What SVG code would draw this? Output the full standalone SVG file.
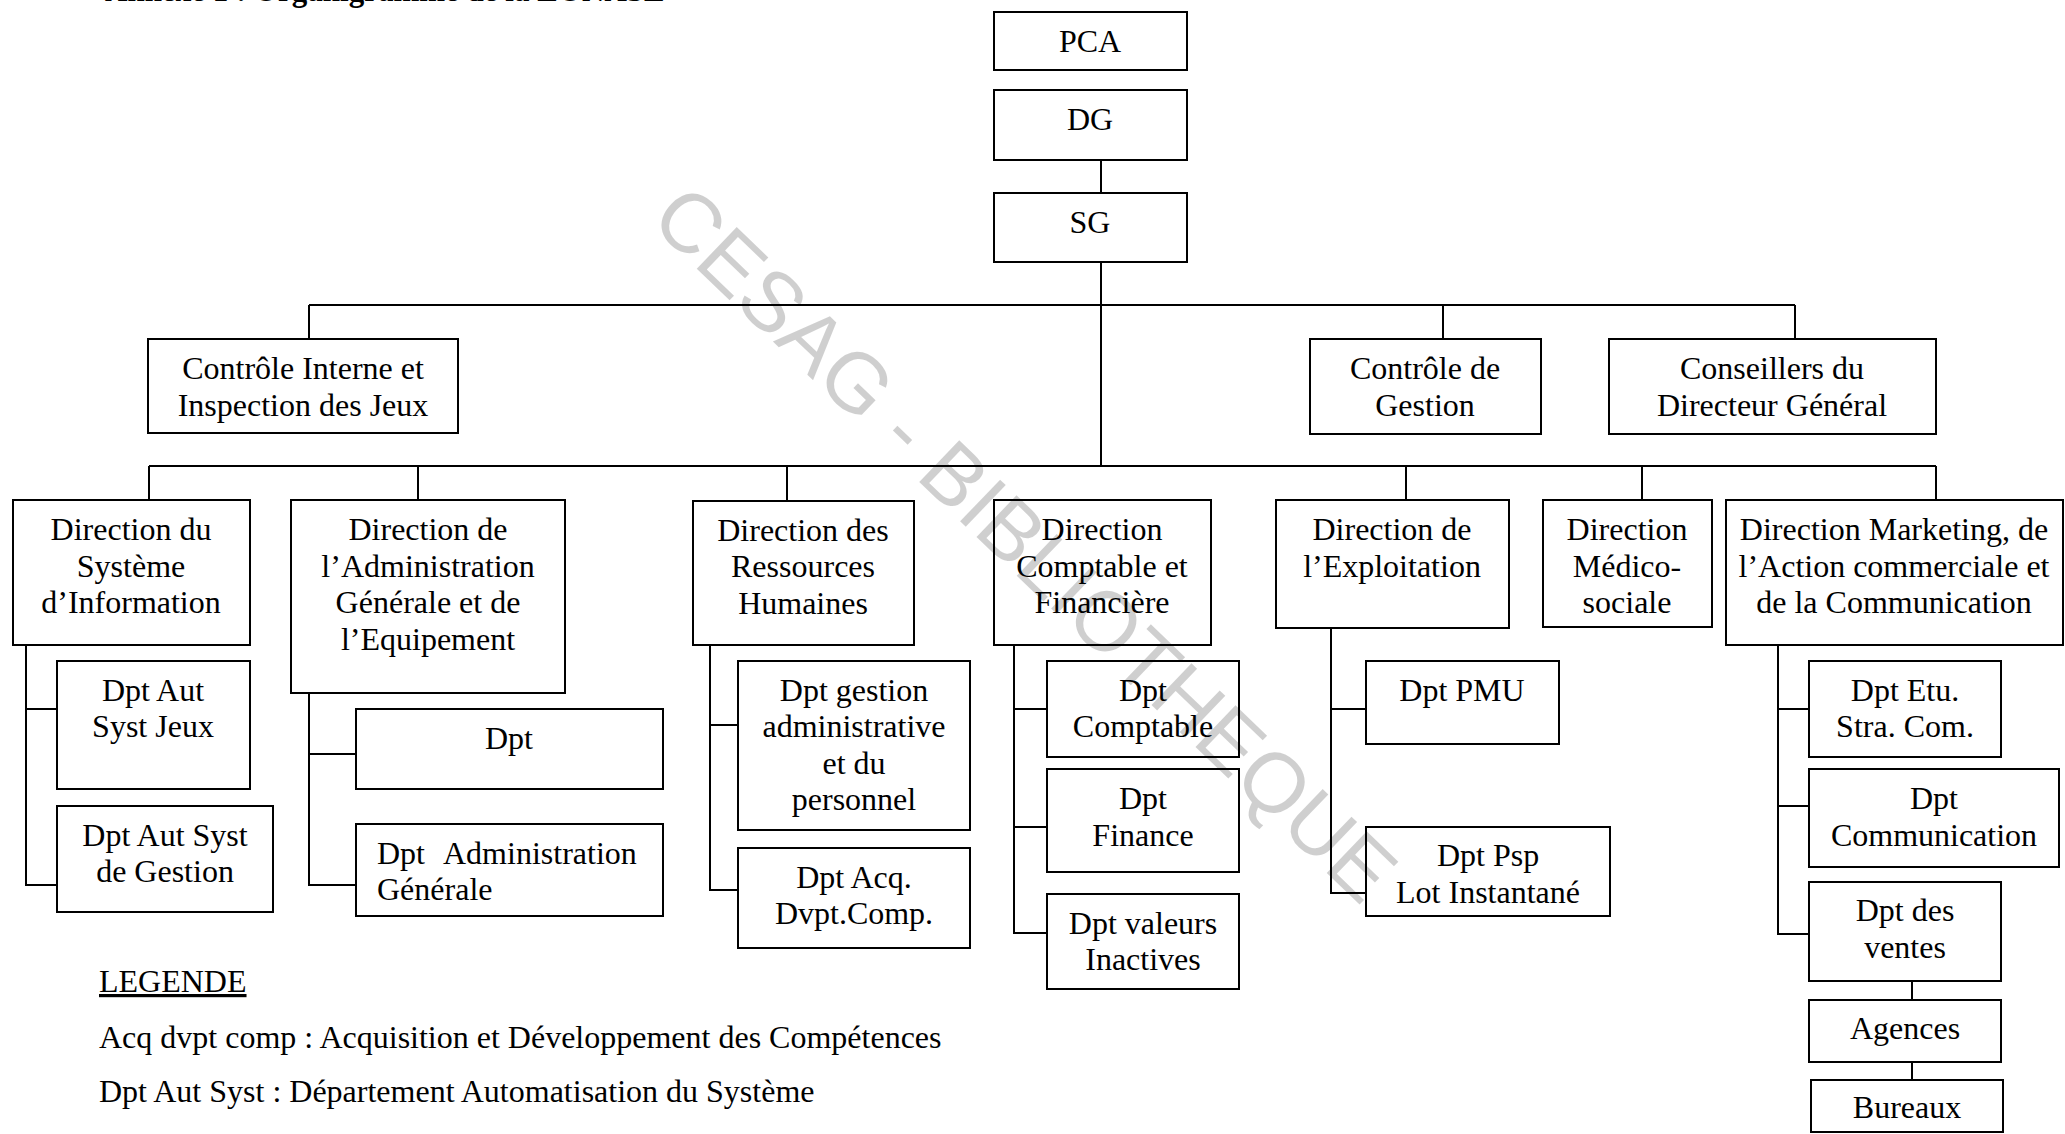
<svg xmlns="http://www.w3.org/2000/svg" width="2065" height="1134" viewBox="0 0 2065 1134">
  <style>
    .box { fill: #ffffff; stroke: #000000; stroke-width: 2; }
    .lbl { font-family: "Liberation Serif", "Times New Roman", serif; font-size: 32px; fill: #000000; text-anchor: middle; }
    .leg { font-family: "Liberation Serif", "Times New Roman", serif; font-size: 32px; fill: #000000; }
    .title { font-family: "Liberation Serif", "Times New Roman", serif; font-size: 31px; font-weight: bold; fill: #000000; }
    .wire { fill: none; stroke: #000000; stroke-width: 2; }
    .mark { font-family: "Liberation Sans", Arial, sans-serif; font-size: 84px; fill: #000000; fill-opacity: 0.19; }
  </style>

  <rect width="2065" height="1134" fill="#ffffff"/>

  <!-- heading, mostly above the page edge -->
  <text class="title" x="105" y="1">Annexe 1 : Organigramme de la LONASE</text>

  <!-- connectors -->
  <g id="connectors" class="wire">
    <path d="M1101,160 V193"/>
    <path d="M1101,262 V466"/>
    <path d="M309,305 H1795"/>
    <path d="M309,305 V339 M1443,305 V339 M1795,305 V339"/>
    <path d="M149,466 H1936"/>
    <path d="M149,466 V500 M418,466 V500 M787,466 V501 M1406,466 V500 M1642,466 V500 M1936,466 V500"/>
    <!-- Système d'Information -->
    <path d="M26,645 V885 H57 M26,709 H57"/>
    <!-- Administration Générale -->
    <path d="M309,693 V885 H356 M309,754 H356"/>
    <!-- Ressources Humaines -->
    <path d="M710,645 V890 H738 M710,725 H738"/>
    <!-- Comptable et Financière -->
    <path d="M1014,645 V933 H1047 M1014,709 H1047 M1014,827 H1047"/>
    <!-- Exploitation -->
    <path d="M1331,628 V893 H1366 M1331,709 H1366"/>
    <!-- Marketing -->
    <path d="M1778,645 V934 H1809 M1778,709 H1809 M1778,806 H1809"/>
    <path d="M1912,981 V1000 M1912,1062 V1080"/>
  </g>

  <!-- nodes -->
  <g id="pca"><rect class="box" x="994" y="12" width="193" height="58"/><text class="lbl" x="1090" y="52">PCA</text></g>
  <g id="dg"><rect class="box" x="994" y="90" width="193" height="70"/><text class="lbl" x="1090" y="130">DG</text></g>
  <g id="sg"><rect class="box" x="994" y="193" width="193" height="69"/><text class="lbl" x="1090" y="233">SG</text></g>

  <g id="controle-interne"><rect class="box" x="148" y="339" width="310" height="94"/>
    <text class="lbl" x="303" y="379">Contrôle Interne et</text><text class="lbl" x="303" y="416">Inspection des Jeux</text></g>
  <g id="controle-gestion"><rect class="box" x="1310" y="339" width="231" height="95"/>
    <text class="lbl" x="1425" y="379">Contrôle de</text><text class="lbl" x="1425" y="416">Gestion</text></g>
  <g id="conseillers"><rect class="box" x="1609" y="339" width="327" height="95"/>
    <text class="lbl" x="1772" y="379">Conseillers du</text><text class="lbl" x="1772" y="416">Directeur Général</text></g>

  <g id="dsi"><rect class="box" x="13" y="500" width="237" height="145"/>
    <text class="lbl" x="131" y="540">Direction du</text><text class="lbl" x="131" y="577">Système</text><text class="lbl" x="131" y="613">d’Information</text></g>
  <g id="dage"><rect class="box" x="291" y="500" width="274" height="193"/>
    <text class="lbl" x="428" y="540">Direction de</text><text class="lbl" x="428" y="577">l’Administration</text><text class="lbl" x="428" y="613">Générale et de</text><text class="lbl" x="428" y="650">l’Equipement</text></g>
  <g id="drh"><rect class="box" x="693" y="501" width="221" height="144"/>
    <text class="lbl" x="803" y="541">Direction des</text><text class="lbl" x="803" y="577">Ressources</text><text class="lbl" x="803" y="614">Humaines</text></g>
  <g id="dcf"><rect class="box" x="994" y="500" width="217" height="145"/>
    <text class="lbl" x="1102" y="540">Direction</text><text class="lbl" x="1102" y="577">Comptable et</text><text class="lbl" x="1102" y="613">Financière</text></g>
  <g id="dexp"><rect class="box" x="1276" y="500" width="233" height="128"/>
    <text class="lbl" x="1392" y="540">Direction de</text><text class="lbl" x="1392" y="577">l’Exploitation</text></g>
  <g id="dms"><rect class="box" x="1543" y="500" width="169" height="127"/>
    <text class="lbl" x="1627" y="540">Direction</text><text class="lbl" x="1627" y="577">Médico-</text><text class="lbl" x="1627" y="613">sociale</text></g>
  <g id="dmkt"><rect class="box" x="1726" y="500" width="337" height="145"/>
    <text class="lbl" x="1894" y="540">Direction Marketing, de</text><text class="lbl" x="1894" y="577">l’Action commerciale et</text><text class="lbl" x="1894" y="613">de la Communication</text></g>

  <g id="dpt-aut-jeux"><rect class="box" x="57" y="661" width="193" height="128"/>
    <text class="lbl" x="153" y="701">Dpt Aut</text><text class="lbl" x="153" y="737">Syst Jeux</text></g>
  <g id="dpt-aut-gestion"><rect class="box" x="57" y="806" width="216" height="106"/>
    <text class="lbl" x="165" y="846">Dpt Aut Syst</text><text class="lbl" x="165" y="882">de Gestion</text></g>

  <g id="dpt"><rect class="box" x="356" y="709" width="307" height="80"/>
    <text class="lbl" x="509" y="749">Dpt</text></g>
  <g id="dpt-admin"><rect class="box" x="356" y="824" width="307" height="92"/>
    <text class="leg" y="864"><tspan x="377">Dpt</tspan><tspan x="443">Administration</tspan></text>
    <text class="leg" x="377" y="900">Générale</text></g>

  <g id="dpt-gestion-admin"><rect class="box" x="738" y="661" width="232" height="169"/>
    <text class="lbl" x="854" y="701">Dpt gestion</text><text class="lbl" x="854" y="737">administrative</text><text class="lbl" x="854" y="774">et du</text><text class="lbl" x="854" y="810">personnel</text></g>
  <g id="dpt-acq"><rect class="box" x="738" y="848" width="232" height="100"/>
    <text class="lbl" x="854" y="888">Dpt Acq.</text><text class="lbl" x="854" y="924">Dvpt.Comp.</text></g>

  <g id="dpt-comptable"><rect class="box" x="1047" y="661" width="192" height="96"/>
    <text class="lbl" x="1143" y="701">Dpt</text><text class="lbl" x="1143" y="737">Comptable</text></g>
  <g id="dpt-finance"><rect class="box" x="1047" y="769" width="192" height="103"/>
    <text class="lbl" x="1143" y="809">Dpt</text><text class="lbl" x="1143" y="846">Finance</text></g>
  <g id="dpt-valeurs"><rect class="box" x="1047" y="894" width="192" height="95"/>
    <text class="lbl" x="1143" y="934">Dpt valeurs</text><text class="lbl" x="1143" y="970">Inactives</text></g>

  <g id="dpt-pmu"><rect class="box" x="1366" y="661" width="193" height="83"/>
    <text class="lbl" x="1462" y="701">Dpt PMU</text></g>
  <g id="dpt-psp"><rect class="box" x="1366" y="827" width="244" height="89"/>
    <text class="lbl" x="1488" y="866">Dpt Psp</text><text class="lbl" x="1488" y="903">Lot Instantané</text></g>

  <g id="dpt-etu"><rect class="box" x="1809" y="661" width="192" height="96"/>
    <text class="lbl" x="1905" y="701">Dpt Etu.</text><text class="lbl" x="1905" y="737">Stra. Com.</text></g>
  <g id="dpt-comm"><rect class="box" x="1809" y="769" width="250" height="98"/>
    <text class="lbl" x="1934" y="809">Dpt</text><text class="lbl" x="1934" y="846">Communication</text></g>
  <g id="dpt-ventes"><rect class="box" x="1809" y="882" width="192" height="99"/>
    <text class="lbl" x="1905" y="921">Dpt des</text><text class="lbl" x="1905" y="958">ventes</text></g>
  <g id="agences"><rect class="box" x="1809" y="1000" width="192" height="62"/>
    <text class="lbl" x="1905" y="1039">Agences</text></g>
  <g id="bureaux"><rect class="box" x="1811" y="1080" width="192" height="52" stroke-width="3"/>
    <text class="lbl" x="1907" y="1118">Bureaux</text></g>

  <!-- legend -->
  <g id="legende">
    <text class="leg" x="99" y="992" text-decoration="underline">LEGENDE</text>
    <text class="leg" x="99" y="1048">Acq dvpt comp : Acquisition et Développement des Compétences</text>
    <text class="leg" x="99" y="1102">Dpt Aut Syst : Département Automatisation du Système</text>
  </g>

  <!-- library stamp across the page, translucent so the labels stay legible -->
  <text class="mark" transform="translate(648,222) rotate(43.8)">CESAG - BIBLIOTHEQUE</text>
</svg>
